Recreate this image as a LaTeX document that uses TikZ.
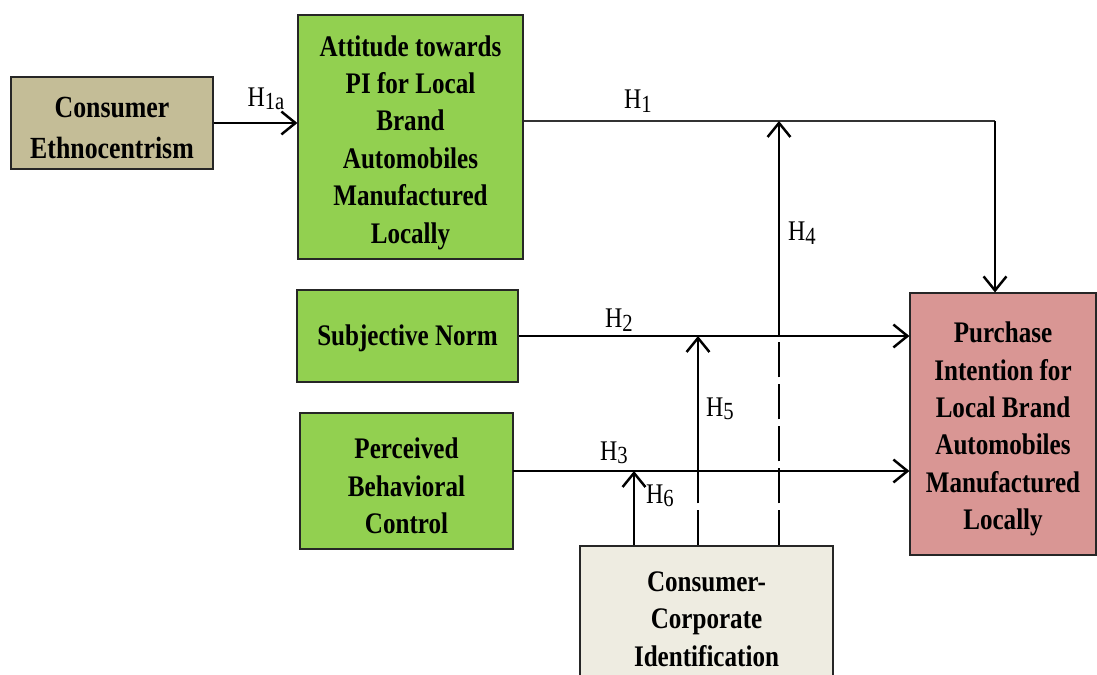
\documentclass[tikz,border=0pt]{standalone}
\usepackage{fontspec}
\setmainfont{Liberation Serif}[FakeStretch=0.84]
\usetikzlibrary{arrows.meta,positioning}
\definecolor{cetan}{HTML}{C4BD97}
\definecolor{tpbgreen}{HTML}{92D050}
\definecolor{pirose}{HTML}{D99694}
\definecolor{ccicream}{HTML}{EEECE1}
% hypothesis label: H with a slightly lowered index
\newcommand{\hyp}[1]{H\raisebox{-2pt}{\fontsize{14}{14}\selectfont #1}}
\tikzset{
 box/.style={draw=black!85, line width=0.7pt, inner sep=0pt},
 boxtext/.style={align=center, inner sep=0pt,
  font=\bfseries\fontsize{17}{21.3}\selectfont},
 link/.style={line width=1.4pt, -{Straight Barb[length=8pt,width=13pt]}},
 thinlink/.style={line width=0.6pt, black!80},
 modlink/.style={line width=0.9pt, dash pattern=on 0.7cm off 0.14cm},
 hlabel/.style={font=\fontsize{16.2}{17}\selectfont, inner sep=0pt},
}
\begin{document}
\begin{tikzpicture}[x=0.02cm, y=-0.02cm]
 \useasboundingbox (0,0) rectangle (1097,675);

 % constructs
 \node[box, fill=cetan, minimum width=4.04cm, minimum height=1.84cm] (ce) at (112,123) {};
 \node[box, fill=tpbgreen, minimum width=4.5cm, minimum height=4.88cm] (att) at (410.5,137) {};
 \node[box, fill=tpbgreen, minimum width=4.42cm, minimum height=1.84cm] (sn) at (407.5,336) {};
 \node[box, fill=tpbgreen, minimum width=4.26cm, minimum height=2.72cm] (pbc) at (406.5,481) {};
 \node[box, fill=pirose, minimum width=3.72cm, minimum height=5.24cm] (pi) at (1003,424) {};
 \node[box, fill=ccicream, minimum width=5.06cm, minimum height=2.72cm] (cci) at (706.5,614) {};

 % their texts, set a little below the middle
 \node[boxtext, font=\bfseries\fontsize{17.5}{23}\selectfont] (ce-t) at ([yshift=-0.1cm]ce.center)
  {Consumer\\Ethnocentrism};
 \node[boxtext] (att-t) at ([yshift=-0.11cm]att.center)
  {Attitude towards\\PI for Local\\Brand\\Automobiles\\Manufactured\\Locally};
 \node[boxtext] (sn-t) at ([yshift=-0.04cm]sn.center) {Subjective Norm};
 \node[boxtext] (pbc-t) at ([yshift=-0.1cm]pbc.center)
  {Perceived\\Behavioral\\Control};
 \node[boxtext] (pi-t) at ([yshift=-0.1cm]pi.center)
  {Purchase\\Intention for\\Local Brand\\Automobiles\\Manufactured\\Locally};
 \node[boxtext] (cci-t) at ([yshift=-0.1cm]cci.center)
  {Consumer-\\Corporate\\Identification};

 % helper points for the paths
 \coordinate (h1) at (995,121);
 \coordinate (h3) at (513,471);
 \coordinate (x6) at (634,0);
 \coordinate (x5) at (698,0);
 \coordinate (x4) at (779,0);

 % direct effects
 \draw[link] (ce) -- (ce -| att.west);
 \draw[thinlink] (att.east |- h1) -- (h1);
 \draw[link] (h1) -- (h1 |- pi.north);
 \draw[link] (sn.east) -- (sn.east -| pi.west);
 \draw[link] (h3) -- (h3 -| pi.west);

 % moderating effects of identification
 \draw[link] (cci.north -| x6) -- (h3 -| x6);
 \draw[modlink] (cci.north -| x5) -- (h3 -| x5);
 \draw[link] (h3 -| x5) -- (sn.east -| x5);
 \draw[modlink] (cci.north -| x4) -- (sn.east -| x4);
 \draw[link] (sn.east -| x4) -- (h1 -| x4);

 % hypothesis labels
 \node[hlabel] (l1a) at (266,99) {\hyp{1a}};
 \node[hlabel] (l1) at (638,101) {\hyp{1}};
 \node[hlabel] (l2) at (619,320) {\hyp{2}};
 \node[hlabel] (l3) at (614,453) {\hyp{3}};
 \node[hlabel] (l4) at (802,233) {\hyp{4}};
 \node[hlabel] (l5) at (720,409) {\hyp{5}};
 \node[hlabel] (l6) at (660,496) {\hyp{6}};
\end{tikzpicture}
\end{document}
